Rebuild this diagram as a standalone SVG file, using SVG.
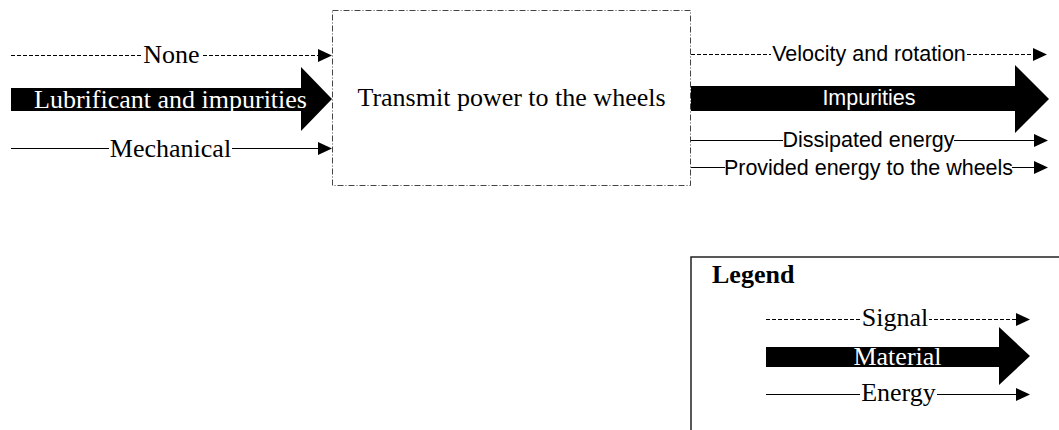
<svg xmlns="http://www.w3.org/2000/svg" width="1059" height="430" viewBox="0 0 1059 430">
<style>
.serif{font-family:"Liberation Serif","Times New Roman",serif;font-size:26px;fill:#000;text-anchor:middle}
.sans{font-family:"Liberation Sans",Arial,sans-serif;font-size:21.5px;fill:#000;text-anchor:middle}
.w{fill:#fff}
.sig{stroke:#000;stroke-width:1;stroke-dasharray:4,2;fill:none}
.en{stroke:#000;stroke-width:1;fill:none}
.gap{fill:#fff}
.head{fill:#000}
</style>
<rect width="1059" height="430" fill="#fff"/>
<g id="function">
<rect x="332.5" y="10.5" width="358" height="175" fill="#fff" stroke="#444" stroke-width="1" stroke-dasharray="6,2,1,2"/>
<text class="serif" x="511.5" y="106">Transmit power to the wheels</text>
</g>
<g id="connectors">
<!-- None (signal in) -->
<line class="sig" x1="11" y1="55.5" x2="320" y2="55.5"/>
<rect class="gap" x="142" y="50" width="59" height="12"/>
<path class="head" d="M318,49 L332,55.5 L318,62 Z"/>
<text class="serif" x="171.5" y="63">None</text>
<!-- Lubrificant (material in) -->
<path class="head" d="M11,88 H301 V67 L332,99 L301,131 V111 H11 Z"/>
<text class="serif w" x="170.5" y="108">Lubrificant and impurities</text>
<!-- Mechanical (energy in) -->
<line class="en" x1="11" y1="148.5" x2="320" y2="148.5"/>
<rect class="gap" x="109" y="143" width="123" height="12"/>
<path class="head" d="M318,142 L332,148.5 L318,155 Z"/>
<text class="serif" x="170.5" y="157">Mechanical</text>
<!-- Velocity and rotation (signal out) -->
<line class="sig" x1="691" y1="54.5" x2="1035" y2="54.5"/>
<rect class="gap" x="771" y="49" width="196" height="12"/>
<path class="head" d="M1033,48 L1047,54.5 L1033,61 Z"/>
<text class="sans" x="869" y="61">Velocity and rotation</text>
<!-- Impurities (material out) -->
<path class="head" d="M691,86 H1015 V65 L1049,99 L1015,133 V111 H691 Z"/>
<text class="sans w" x="869" y="105">Impurities</text>
<!-- Dissipated energy -->
<line class="en" x1="691" y1="140.5" x2="1036" y2="140.5"/>
<rect class="gap" x="783" y="135" width="171" height="12"/>
<path class="head" d="M1034,134 L1048,140.5 L1034,147 Z"/>
<text class="sans" x="868.5" y="147">Dissipated energy</text>
<!-- Provided energy to the wheels -->
<line class="en" x1="691" y1="167.5" x2="1036" y2="167.5"/>
<rect class="gap" x="725" y="162" width="287" height="12"/>
<path class="head" d="M1034,161 L1048,167.5 L1034,174 Z"/>
<text class="sans" x="868.5" y="175">Provided energy to the wheels</text>
</g>
<g id="legend">
<rect x="691" y="257" width="400" height="200" fill="#fff" stroke="#222" stroke-width="1.5"/>
<text x="712" y="283" style="font-family:'Liberation Serif','Times New Roman',serif;font-size:26px;font-weight:bold">Legend</text>
<line class="sig" x1="766" y1="319.5" x2="1018" y2="319.5"/>
<rect class="gap" x="861" y="314" width="68" height="12"/>
<path class="head" d="M1016,313 L1030,319.5 L1016,326 Z"/>
<text class="serif" x="895" y="326">Signal</text>
<path class="head" d="M766,347 H999 V327 L1030,356 L999,385 V367 H766 Z"/>
<text class="serif w" x="897.5" y="365">Material</text>
<line class="en" x1="766" y1="394.5" x2="1018" y2="394.5"/>
<rect class="gap" x="860" y="389" width="77" height="12"/>
<path class="head" d="M1016,388 L1030,394.5 L1016,401 Z"/>
<text class="serif" x="898.5" y="401">Energy</text>
</g>
</svg>
